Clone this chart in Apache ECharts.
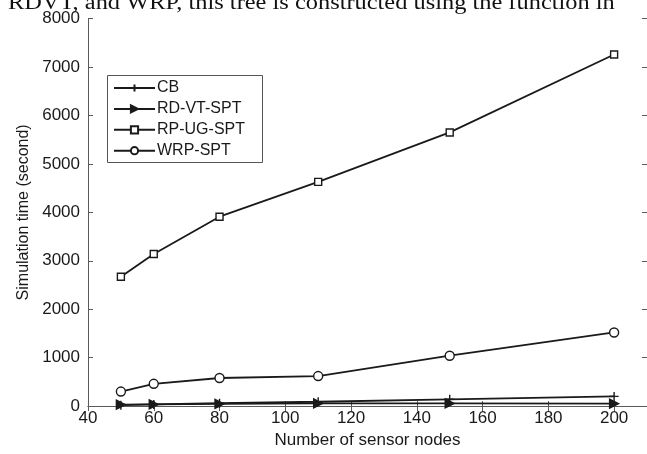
<!DOCTYPE html>
<html><head><meta charset="utf-8">
<script src="https://cdn.jsdelivr.net/npm/echarts@6/dist/echarts.min.js"></script>
<style>html,body{margin:0;padding:0;background:#fff}#c{width:647px;height:454px}</style>
</head><body><div id="c"></div>
<script>
var nodes = [50, 60, 80, 110, 150, 200];
var cb = [20, 35, 60, 90, 140, 200];
var rdvt = [30, 35, 45, 55, 55, 50];
var rpug = [2670, 3140, 3910, 4630, 5650, 7260];
var wrp = [300, 460, 580, 620, 1040, 1520];
var seriesNames = ['CB', 'RD-VT-SPT', 'RP-UG-SPT', 'WRP-SPT'];
var xTicks = [40, 60, 80, 100, 120, 140, 160, 180, 200];
var yTicks = [0, 1000, 2000, 3000, 4000, 5000, 6000, 7000, 8000];
var topText = 'RDVT, and WRP, this tree is constructed using the function in';

function pairs(v){ return nodes.map(function(n,i){ return [n, v[i]]; }); }
var ink = '#1a1a1a';
var axisCol = '#5a5a5a';
var font = 'Liberation Sans, Arial, sans-serif';
function mk(name, data, symbol, size, fill, rot){
  return {
    name: name, type: 'line', data: pairs(data), symbol: symbol, symbolSize: size,
    symbolRotate: rot || 0,
    lineStyle: {color: ink, width: 1.8},
    itemStyle: {color: fill, borderColor: ink, borderWidth: 1.4},
    emphasis: {disabled: true}, animation: false, z: 3
  };
}
var chart = echarts.init(document.getElementById('c'), null, {renderer: 'canvas'});
chart.setOption({
  backgroundColor: '#fff',
  animation: false,
  grid: {left: 88, right: -3, top: 18.6, bottom: 42},
  xAxis: [{
    type: 'value', min: 40, max: 210, interval: 20,
    name: 'Number of sensor nodes', nameLocation: 'middle', nameGap: 21,
    nameTextStyle: {fontFamily: font, fontSize: 17, color: ink},
    axisLine: {show: true, lineStyle: {color: axisCol, width: 1}},
    axisTick: {show: true, inside: true, length: 5, lineStyle: {color: axisCol}},
    axisLabel: {fontFamily: font, fontSize: 17, color: ink, margin: 4, showMaxLabel: false,
      formatter: function(v){ return xTicks.indexOf(v) >= 0 ? String(v) : ''; }},
    splitLine: {show: false}
  }, {
    type: 'value', min: 40, max: 210, interval: 20, position: 'top',
    axisLine: {show: true, lineStyle: {color: axisCol, width: 1}},
    axisTick: {show: true, inside: true, length: 5, lineStyle: {color: axisCol}},
    axisLabel: {show: false}, splitLine: {show: false}
  }],
  yAxis: [{
    type: 'value', min: 0, max: 8000, interval: 1000,
    name: 'Simulation time (second)', nameLocation: 'middle', nameGap: 55,
    nameTextStyle: {fontFamily: font, fontSize: 16, color: ink},
    axisLine: {show: true, lineStyle: {color: axisCol, width: 1}},
    axisTick: {show: true, inside: true, length: 5, lineStyle: {color: axisCol}},
    axisLabel: {fontFamily: font, fontSize: 17, color: ink, margin: 8,
      formatter: function(v){ return yTicks.indexOf(v) >= 0 ? String(v) : ''; }},
    splitLine: {show: false}
  }, {
    type: 'value', min: 0, max: 8000, interval: 1000, position: 'right',
    axisLine: {show: true, lineStyle: {color: axisCol, width: 1}},
    axisTick: {show: true, inside: true, length: 5, lineStyle: {color: axisCol}},
    axisLabel: {show: false}, splitLine: {show: false}
  }],
  legend: {
    orient: 'vertical', left: 113, top: 80, itemWidth: 41, itemHeight: 9, itemGap: 4.9,
    data: seriesNames, selectedMode: false, z: 100,
    textStyle: {fontFamily: font, fontSize: 16, lineHeight: 16, color: ink, padding: [0,0,0,-3]},
    padding: 0
  },
  graphic: [
    {type: 'rect', shape: {x: 107.5, y: 75.5, width: 155, height: 87}, style: {fill: '#fff', stroke: '#555', lineWidth: 1}, z: 5, zlevel: 0},
    {type: 'text', x: 8, y: 14, scaleX: 1.22, style: {text: topText, fontFamily: 'Liberation Serif, Times New Roman, serif', fontSize: 20, fill: '#111', verticalAlign: 'bottom'}, z: 60}
  ],
  series: [
    mk(seriesNames[0], cb, 'path://M5,0 L5,10 M0,5 L10,5', 9, 'none'),
    mk(seriesNames[1], rdvt, 'triangle', 9, ink, -90),
    mk(seriesNames[2], rpug, 'rect', 7, '#fff'),
    mk(seriesNames[3], wrp, 'circle', 9, '#fff')
  ]
});
</script></body></html>
